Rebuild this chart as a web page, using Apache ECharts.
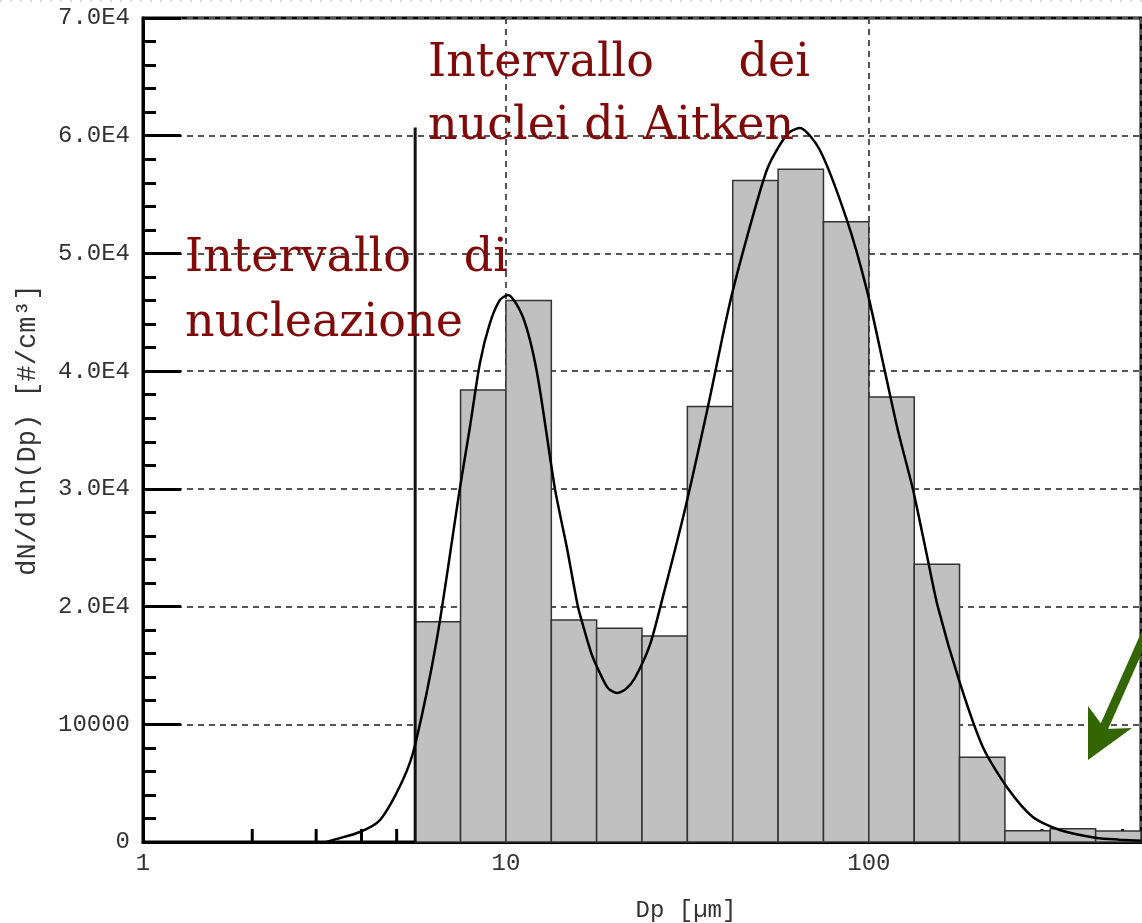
<!DOCTYPE html>
<html>
<head>
<meta charset="utf-8">
<script src="https://cdn.jsdelivr.net/npm/echarts@6/dist/echarts.min.js"></script>
<style>
html,body{margin:0;padding:0;background:#fff;overflow:hidden;}
#chart{width:1142px;height:923px;}
</style>
</head>
<body>
<div id="chart"></div>
<script>
// ---- data ----
const binEdges = [5.623, 7.499, 10, 13.34, 17.78, 23.71, 31.62, 42.17, 56.23, 74.99, 100, 133.4, 177.8, 237.1, 316.2, 421.7, 562.3];
const binValues = [18700, 38400, 46000, 18850, 18150, 17500, 37000, 56200, 57150, 52700, 37800, 23600, 7200, 950, 1130, 935];
const curveDp = [3.2, 3.34, 3.96, 4.50, 5.20, 5.62, 6.46, 7.47, 7.96, 8.48, 9.04, 9.63, 10.13, 11.14, 12.17, 13.65, 14.73, 15.79, 16.51, 17.26, 18.15, 19.10, 20.22, 21.41, 22.67, 24.93, 27.07, 31.12, 36.02, 41.41, 47.00, 52.36, 56.86, 60.60, 64.55, 73.28, 86.99, 98.74, 110.7, 120.2, 132.2, 144.5, 154.9, 178.2, 206.1, 240.0, 283.0, 335.9, 424.8, 491.5, 562.3];
const curveVal = [0, 170, 850, 1870, 5270, 8240, 17330, 30080, 35260, 40700, 44100, 46050, 46470, 44600, 39930, 30000, 24980, 20000, 17840, 15890, 14360, 13080, 12660, 13000, 13930, 16740, 20820, 28210, 36960, 45790, 52250, 57090, 59220, 60320, 60660, 58790, 52850, 46900, 40000, 35000, 30000, 24380, 20000, 13510, 8070, 4670, 2120, 1020, 340, 200, 100];
const cutoffLineDp = [5.623, 5.623];
const cutoffLineVal = [0, 60700];
const xTickLabels = [1, 10, 100];
const xMinorTicks = [2, 3, 4, 5, 6, 7, 8, 9, 20, 30, 40, 50, 60, 70, 80, 90, 200, 300, 400, 500];
const yTickLabels = ['0', '10000', '2.0E4', '3.0E4', '4.0E4', '5.0E4', '6.0E4', '7.0E4'];
const xName = 'Dp [µm]';
const yName = 'dN/dln(Dp) [#/cm³]';
const notes = [
  {text: 'Intervallo', pos: [428, 64], align: 'left'},
  {text: 'dei', pos: [810, 64], align: 'right'},
  {text: 'nuclei di Aitken', pos: [428, 127], align: 'left'},
  {text: 'Intervallo', pos: [185, 259], align: 'left'},
  {text: 'di', pos: [508, 259], align: 'right'},
  {text: 'nucleazione', pos: [185, 324], align: 'left'}
];

// ---- build ----
const bars = binValues.map((v, i) => [binEdges[i], binEdges[i + 1], v]);
const curve = curveDp.map((d, i) => [d, curveVal[i]]);
const cutoff = cutoffLineDp.map((d, i) => [d, cutoffLineVal[i]]);
const mono = '"Liberation Mono", "Courier New", monospace';

const chart = echarts.init(document.getElementById('chart'), null, {renderer: 'canvas'});
const option = {
  animation: false,
  backgroundColor: '#fff',
  grid: {left: 143, right: 1, top: 18, bottom: 81, containLabel: false, outerBoundsMode: 'none',
         show: true, borderColor: '#000', borderWidth: 3, backgroundColor: 'transparent'},
  xAxis: {
    type: 'log', logBase: 10, min: 1, max: binEdges[binEdges.length - 1],
    name: xName, nameLocation: 'middle', nameGap: 57,
    nameTextStyle: {fontFamily: mono, fontSize: 24, color: '#333', padding: [0, 0, 0, 88]},
    axisLine: {show: true, lineStyle: {color: '#000', width: 3}},
    axisTick: {show: false},
    axisLabel: {fontFamily: mono, fontSize: 24, color: '#333', margin: 10,
      formatter: v => {
        const m = xTickLabels.find(t => Math.abs(t - v) / t < 1e-6);
        return m === undefined ? '' : String(m);
      }},
    splitLine: {show: true, lineStyle: {color: '#555', width: 2, type: [6, 5]}}
  },
  yAxis: {
    type: 'value', min: 0, max: 70000, interval: 10000,
    name: yName, nameLocation: 'middle', nameGap: 102,
    nameTextStyle: {fontFamily: mono, fontSize: 27, color: '#333'},
    axisLine: {show: true, lineStyle: {color: '#000', width: 3}},
    axisTick: {show: true, inside: true, length: 38, lineStyle: {color: '#000', width: 3}},
    minorTick: {show: true, splitNumber: 5, length: 13, lineStyle: {color: '#000', width: 3}},
    axisLabel: {fontFamily: mono, fontSize: 24, color: '#333', margin: 13,
      formatter: v => yTickLabels[Math.round(v / 10000)]},
    splitLine: {show: true, lineStyle: {color: '#555', width: 2, type: [6, 5]}}
  },
  series: [
    {
      type: 'custom', name: 'minorTicks', data: xMinorTicks.map(v => [v]), encode: {x: 0}, z: 2,
      renderItem: (params, api) => {
        const p = api.coord([api.value(0), 0]);
        return {type: 'line', shape: {x1: p[0], y1: p[1], x2: p[0], y2: p[1] - 13},
                style: {stroke: '#000', lineWidth: 3}};
      }
    },
    {
      type: 'custom', name: 'bins', data: bars, encode: {x: [0, 1], y: 2}, z: 3,
      renderItem: (params, api) => {
        const p0 = api.coord([api.value(0), api.value(2)]);
        const p1 = api.coord([api.value(1), 0]);
        return {type: 'rect', shape: {x: p0[0], y: p0[1], width: p1[0] - p0[0], height: p1[1] - p0[1]},
                style: {fill: '#c0c0c0', stroke: '#333', lineWidth: 1.5}};
      }
    },
    {
      type: 'line', name: 'cutoff', data: cutoff, showSymbol: false, z: 4,
      lineStyle: {color: '#111', width: 3}
    },
    {
      type: 'line', name: 'fit', data: curve, showSymbol: false, smooth: 0.25, z: 6,
      lineStyle: {color: '#000', width: 2.5}
    }
  ],
  graphic: [
    {type: 'line', z: 100, shape: {x1: 0, y1: 1, x2: 1142, y2: 1}, style: {stroke: '#bbb', lineWidth: 1, lineDash: [2, 8]}},
    ...notes.map(n => ({
      type: 'text', z: 100, x: n.pos[0], y: n.pos[1],
      style: {text: n.text, font: '46px "DejaVu Serif", serif', fill: '#7f0a0a', textAlign: n.align, textVerticalAlign: 'middle'}
    })),
    {type: 'line', z: 100, shape: {x1: 1165, y1: 590, x2: 1101, y2: 734}, style: {stroke: '#336600', lineWidth: 9}},
    {type: 'polygon', z: 100, shape: {points: [[1088, 760], [1088, 706], [1105, 729], [1132, 728]]}, style: {fill: '#336600'}}
  ]
};
chart.setOption(option);
</script>
</body>
</html>
